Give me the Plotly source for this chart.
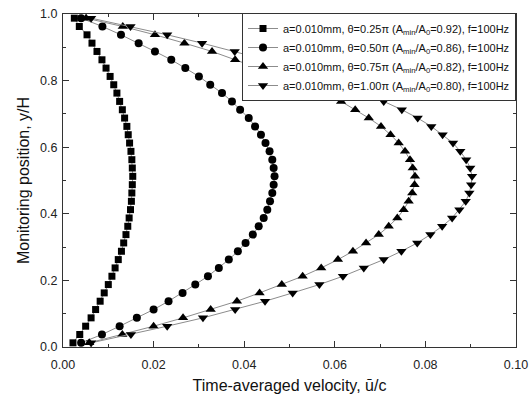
import plotly.graph_objects as go

# Monitoring positions y/H (40 sample heights)
y_pos = [(i + 0.5) / 40 for i in range(40)]

u_025 = [0.0022, 0.0037, 0.0050, 0.0062, 0.0072, 0.0082, 0.0091, 0.0100, 0.0108, 0.0115,
         0.0122, 0.0129, 0.0134, 0.0139, 0.0143, 0.0146, 0.0149, 0.0151, 0.0152, 0.0153,
         0.0154, 0.0153, 0.0152, 0.0150, 0.0147, 0.0144, 0.0141, 0.0136, 0.0131, 0.0125,
         0.0119, 0.0112, 0.0104, 0.0095, 0.0086, 0.0075, 0.0064, 0.0053, 0.0036, 0.0025]

u_050 = [0.0040, 0.0086, 0.0125, 0.0163, 0.0200, 0.0233, 0.0264, 0.0292, 0.0320, 0.0344,
         0.0366, 0.0386, 0.0403, 0.0419, 0.0432, 0.0443, 0.0451, 0.0457, 0.0462, 0.0465,
         0.0467, 0.0465, 0.0462, 0.0456, 0.0447, 0.0437, 0.0424, 0.0410, 0.0391, 0.0373,
         0.0351, 0.0325, 0.0300, 0.0270, 0.0239, 0.0203, 0.0167, 0.0128, 0.0087, 0.0040]

u_075 = [0.0058, 0.0131, 0.0200, 0.0265, 0.0326, 0.0384, 0.0434, 0.0483, 0.0529, 0.0570,
         0.0607, 0.0640, 0.0669, 0.0697, 0.0719, 0.0738, 0.0752, 0.0763, 0.0771, 0.0776,
         0.0777, 0.0772, 0.0766, 0.0755, 0.0741, 0.0723, 0.0702, 0.0675, 0.0645, 0.0614,
         0.0575, 0.0528, 0.0480, 0.0431, 0.0380, 0.0329, 0.0268, 0.0203, 0.0132, 0.0051]

u_100 = [0.0062, 0.0150, 0.0230, 0.0309, 0.0380, 0.0446, 0.0507, 0.0566, 0.0618, 0.0664,
         0.0708, 0.0747, 0.0782, 0.0811, 0.0837, 0.0859, 0.0875, 0.0889, 0.0897, 0.0901,
         0.0903, 0.0899, 0.0890, 0.0877, 0.0861, 0.0838, 0.0813, 0.0783, 0.0748, 0.0708,
         0.0666, 0.0618, 0.0566, 0.0509, 0.0447, 0.0379, 0.0307, 0.0230, 0.0149, 0.0062]

names = [
    "a=0.010mm, θ=0.25π (A<sub>min</sub>/A<sub>0</sub>=0.92), f=100Hz",
    "a=0.010mm, θ=0.50π (A<sub>min</sub>/A<sub>0</sub>=0.86), f=100Hz",
    "a=0.010mm, θ=0.75π (A<sub>min</sub>/A<sub>0</sub>=0.82), f=100Hz",
    "a=0.010mm, θ=1.00π (A<sub>min</sub>/A<sub>0</sub>=0.80), f=100Hz",
]
series = [u_025, u_050, u_075, u_100]
symbols = ["square", "circle", "triangle-up", "triangle-down"]
sizes = [7, 8, 9, 9]

FONT = "Arial, Liberation Sans, sans-serif"

fig = go.Figure()
for nm, xs, sym, sz in zip(names, series, symbols, sizes):
    fig.add_trace(go.Scatter(
        x=xs, y=y_pos, name=nm, mode="lines+markers",
        line=dict(color="#8c8c8c", width=1),
        marker=dict(symbol=sym, size=sz, color="black", line=dict(width=0)),
    ))

axis_common = dict(
    showline=True, linecolor="#333333", linewidth=1, mirror="ticks",
    ticks="inside", ticklen=6, tickcolor="#333333", tickwidth=1,
    showgrid=False, zeroline=False, automargin=False,
    ticklabeloverflow="allow",
    tickfont=dict(family=FONT, size=12.5, color="#222222"),
)

fig.update_layout(
    width=529, height=397,
    margin=dict(l=63, r=13, t=14, b=50),
    paper_bgcolor="white", plot_bgcolor="white",
    font=dict(family=FONT, color="#111111"),
    xaxis=dict(range=[0, 0.1], dtick=0.02, tickformat=".2f", ticklabelstandoff=6,
               minor=dict(dtick=0.01, ticks="inside", ticklen=3, tickcolor="#333333"),
               title=dict(text="Time-averaged velocity, ū/c", font=dict(family=FONT, size=16), standoff=8),
               **axis_common),
    yaxis=dict(range=[0, 1.0], dtick=0.2, tickformat=".1f", ticklabelstandoff=2,
               minor=dict(dtick=0.1, ticks="inside", ticklen=3, tickcolor="#333333"),
               title=dict(text="Monitoring position, y/H", font=dict(family=FONT, size=16), standoff=6),
               **axis_common),
    legend=dict(x=1.0, xanchor="right", y=1.003, yanchor="top",
                bgcolor="white", bordercolor="#333333", borderwidth=1,
                font=dict(family=FONT, size=11, color="#111111"),
                tracegroupgap=0, itemwidth=30),
    showlegend=True,
)

fig.write_html("out.html")
